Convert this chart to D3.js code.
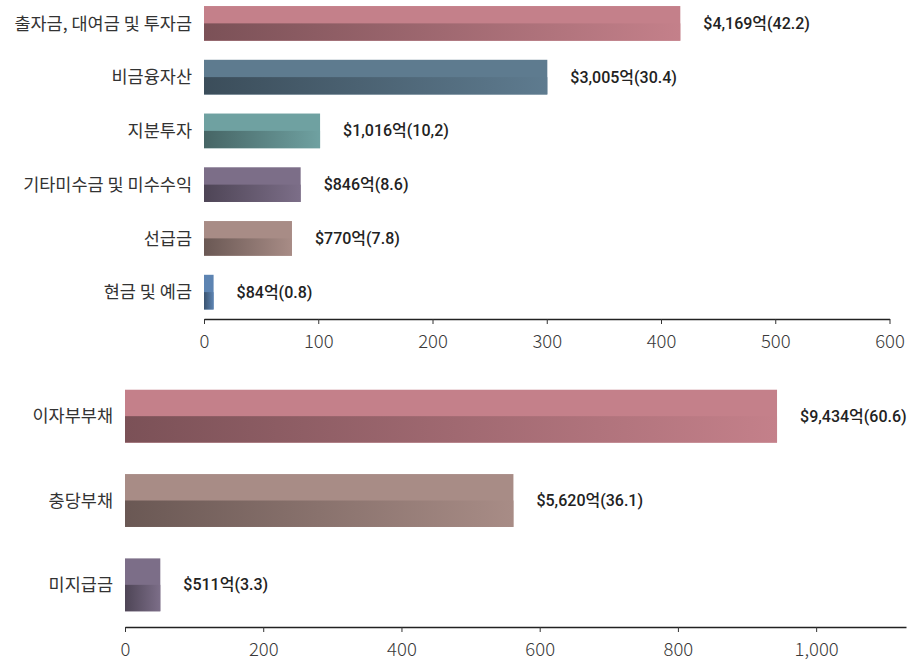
<!DOCTYPE html>
<html>
<head>
<meta charset="utf-8">
<script src="https://cdn.jsdelivr.net/npm/d3@7"></script>
<style>
    html, body { margin: 0; padding: 0; background: #fff; }
    svg { display: block; }
</style>
</head>
<body>
<svg id="chart" width="909" height="662"></svg>
<script>
// 자산 (top panel)
const assetNames = ['출자금, 대여금 및 투자금', '비금융자산', '지분투자', '기타미수금 및 미수수익', '선급금', '현금 및 예금'];
const assetAmounts = [4169, 3005, 1016, 846, 770, 84];   // 억
const assetShares = ['42.2', '30.4', '10,2', '8.6', '7.8', '0.8'];
const assetColors = ['#c4808a', '#5e7b8f', '#6fa1a1', '#7c6e88', '#a88c86', '#5d84b2'];
const assetTicks = [0, 100, 200, 300, 400, 500, 600];

// 부채 (bottom panel)
const debtNames = ['이자부부채', '충당부채', '미지급금'];
const debtAmounts = [9434, 5620, 511];
const debtShares = ['60.6', '36.1', '3.3'];
const debtColors = ['#c4808a', '#a88c86', '#7c6e88'];
const debtTicks = [0, 200, 400, 600, 800, 1000];

const svg = d3.select('#chart');
const defs = svg.append('defs');
const fmt = d3.format(',');
let gradId = 0;

function drawPanel(p) {
    const g = svg.append('g');
    const rows = p.names.map((name, i) => ({
        name,
        value: p.amounts[i] / 10,
        label: `$${fmt(p.amounts[i])}억(${p.shares[i]})`,
        color: p.colors[i]
    }));

    const x = d3.scaleLinear().domain(p.xDomain).range(p.xRange);
    const y = d3.scaleBand()
        .domain(rows.map(d => d.name))
        .range(p.yRange)
        .paddingInner(p.padInner)
        .paddingOuter(p.padInner / 2);

    // lower half of each bar: dark on the left, bar colour on the right
    rows.forEach(d => {
        d.grad = 'grad' + (gradId++);
        const lg = defs.append('linearGradient').attr('id', d.grad);
        lg.append('stop').attr('offset', '0%').attr('stop-color', d3.color(d.color).darker(1.3));
        lg.append('stop').attr('offset', '100%').attr('stop-color', d.color);
    });

    const bars = g.selectAll('g.bar')
        .data(rows)
        .enter().append('g')
        .attr('class', 'bar');

    const half = y.bandwidth() / 2;

    // full bar in flat colour, gradient half laid over it (no seam)
    bars.append('rect')
        .attr('x', x(0))
        .attr('y', d => y(d.name))
        .attr('width', d => x(d.value) - x(0))
        .attr('height', y.bandwidth())
        .attr('fill', d => d.color);

    bars.append('rect')
        .attr('x', x(0))
        .attr('y', d => y(d.name) + half)
        .attr('width', d => x(d.value) - x(0))
        .attr('height', y.bandwidth() - half)
        .attr('fill', d => `url(#${d.grad})`);

    // category labels
    bars.append('text')
        .attr('x', x(0) - 12)
        .attr('y', d => y(d.name) + half)
        .attr('dy', '0.35em')
        .attr('text-anchor', 'end')
        .attr('font-family', '"Noto Sans CJK KR", "Noto Sans", sans-serif')
        .attr('font-size', '17.5px')
        .attr('fill', '#333')
        .text(d => d.name);

    // value labels
    bars.append('text')
        .attr('x', d => x(d.value) + 23)
        .attr('y', d => y(d.name) + half)
        .attr('dy', '0.35em')
        .attr('font-family', 'Roboto, "Noto Sans CJK KR", sans-serif')
        .attr('font-size', '16px')
        .attr('font-weight', 500)
        .attr('fill', '#222')
        .text(d => d.label);

    // axis
    const axis = g.append('g')
        .attr('transform', `translate(0,${p.yRange[1]})`)
        .call(d3.axisBottom(x)
            .tickValues(p.ticks)
            .tickFormat(fmt)
            .tickSize(5)
            .tickSizeOuter(0)
            .tickPadding(11));

    axis.select('.domain')
        .attr('stroke', '#222')
        .attr('stroke-width', 1.3);
    axis.selectAll('.tick line')
        .attr('stroke', '#333');
    axis.selectAll('.tick text')
        .attr('font-family', '"Noto Sans CJK KR", "Noto Sans", sans-serif')
        .attr('font-size', '18.5px')
        .attr('font-weight', 300)
        .attr('fill', '#3a3a3a');
}

drawPanel({
    names: assetNames, amounts: assetAmounts, shares: assetShares, colors: assetColors,
    ticks: assetTicks,
    xDomain: [0, 600], xRange: [204, 889.5],
    yRange: [-3.5, 319], padInner: 0.355
});

drawPanel({
    names: debtNames, amounts: debtAmounts, shares: debtShares, colors: debtColors,
    ticks: debtTicks,
    xDomain: [0, 1130], xRange: [125, 906],
    yRange: [374, 627], padInner: 0.373
});
</script>
</body>
</html>
